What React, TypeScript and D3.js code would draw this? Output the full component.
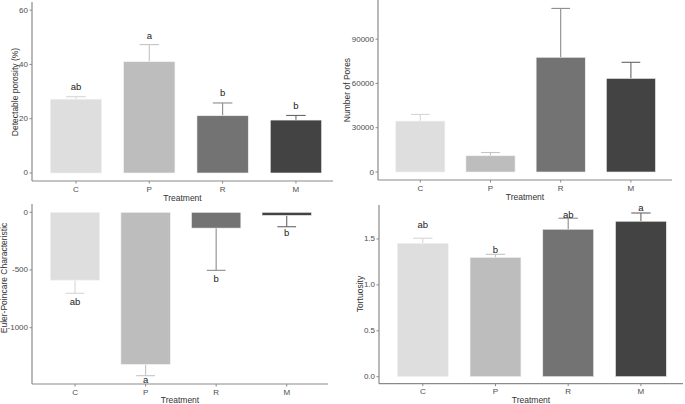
import React from "react";
import * as d3 from "d3";

const categories = ["C", "P", "R", "M"];
const fills = ["#dedede", "#bdbdbd", "#737373", "#434343"];
const errColors = ["#d6d6d6", "#c4c4c4", "#8c8c8c", "#666666"];

// Panel 1: Detectable porosity (%)
const porosity = [27.2, 41.0, 21.1, 19.5];
const porosityErr = [28.1, 47.3, 25.8, 21.2];
const porosityLetters = ["ab", "a", "b", "b"];
const porosityLetterAt = [31.7, 50.5, 29.5, 25.0];
const porosityTicks = [0, 20, 40, 60];

// Panel 2: Number of Pores
const pores = [34500, 11000, 77700, 63400];
const poresErr = [39000, 13200, 110800, 74300];
const poresTicks = [0, 30000, 60000, 90000];

// Panel 3: Euler-Poincare Characteristic
const euler = [-588, -1318, -137, -27];
const eulerErr = [-702, -1416, -503, -125];
const eulerLetters = ["ab", "a", "b", "b"];
const eulerLetterAt = [-777, -1453, -578, -179];
const eulerTicks = [-1000, -500, 0];

// Panel 4: Tortuosity
const tort = [1.453, 1.3, 1.606, 1.693];
const tortErr = [1.508, 1.333, 1.726, 1.783];
const tortLetters = ["ab", "b", "ab", "a"];
const tortLetterAt = [1.66, 1.38, 1.77, 1.845];
const tortTicks = [0, 0.5, 1.0, 1.5];

type PanelProps = {
  values: number[];
  errs: number[];
  letters?: string[];
  letterAt?: number[];
  ticks: number[];
  tickFmt: (v: number) => string;
  yDomain: [number, number];
  axisX: number;
  axisEnd: number;
  top: number;
  bottom: number;
  bandRange: [number, number];
  yTitle: string;
  yTitleX: number;
  yTitleY: number;
  xTitleY: number;
};

function Panel(p: PanelProps) {
  const y = d3.scaleLinear().domain(p.yDomain).range([p.bottom, p.top]);
  const x = d3.scaleBand().domain(categories).range(p.bandRange).paddingInner(0.3).paddingOuter(0.15);
  const bw = x.bandwidth();
  const cap = bw * 0.38;
  const axisCol = "#8a8a8a";
  const font = "Liberation Sans, Arial, sans-serif";
  return (
    <g>
      {categories.map((c, i) => {
        const v = p.values[i];
        const x0 = x(c)!;
        const cx = x0 + bw / 2;
        const y0 = y(0);
        const yv = y(v);
        const ye = y(p.errs[i]);
        return (
          <g key={c}>
            <line x1={cx} x2={cx} y1={yv} y2={ye} stroke={errColors[i]} strokeWidth={1.1} />
            <line x1={cx - cap / 2} x2={cx + cap / 2} y1={ye} y2={ye} stroke={errColors[i]} strokeWidth={1.1} />
            <rect
              x={x0}
              width={bw}
              y={Math.min(y0, yv)}
              height={Math.abs(yv - y0)}
              fill={fills[i]}
              stroke="#f2f2f2"
              strokeWidth={0.6}
            />
            {p.letters && p.letterAt ? (
              <text
                x={cx}
                y={y(p.letterAt[i])}
                textAnchor="middle"
                dominantBaseline="central"
                fontSize={9.5}
                fontFamily={font}
                fill="#1a1a1a"
              >
                {p.letters[i]}
              </text>
            ) : null}
          </g>
        );
      })}
      <line x1={p.axisX} x2={p.axisX} y1={p.top} y2={p.bottom} stroke={axisCol} strokeWidth={1.2} />
      <line x1={p.axisX} x2={p.axisEnd} y1={p.bottom} y2={p.bottom} stroke={axisCol} strokeWidth={1.2} />
      {p.ticks.map((t) => (
        <g key={t}>
          <line x1={p.axisX - 2.5} x2={p.axisX} y1={y(t)} y2={y(t)} stroke={axisCol} strokeWidth={1} />
          <text
            x={p.axisX - 4}
            y={y(t)}
            textAnchor="end"
            dominantBaseline="central"
            fontSize={8}
            fontFamily={font}
            fill="#4d4d4d"
          >
            {p.tickFmt(t)}
          </text>
        </g>
      ))}
      {categories.map((c) => {
        const cx = x(c)! + bw / 2;
        return (
          <g key={"xt" + c}>
            <line x1={cx} x2={cx} y1={p.bottom} y2={p.bottom + 2.5} stroke={axisCol} strokeWidth={1} />
            <text x={cx} y={p.bottom + 10.5} textAnchor="middle" fontSize={8} fontFamily={font} fill="#4d4d4d">
              {c}
            </text>
          </g>
        );
      })}
      <text
        x={(p.axisX + p.axisEnd) / 2}
        y={p.xTitleY}
        textAnchor="middle"
        fontSize={8.5}
        fontFamily={font}
        fill="#333"
      >
        Treatment
      </text>
      <text
        transform={`translate(${p.yTitleX},${p.yTitleY}) rotate(-90)`}
        textAnchor="middle"
        dominantBaseline="central"
        fontSize={8.5}
        fontFamily={font}
        fill="#333"
      >
        {p.yTitle}
      </text>
    </g>
  );
}

export default function App() {
  return (
    <svg width={685} height={404} style={{ position: "absolute", left: 0, top: 0, background: "#fff" }}>
      <rect width={685} height={404} fill="#fff" />
      <Panel
        values={porosity}
        errs={porosityErr}
        letters={porosityLetters}
        letterAt={porosityLetterAt}
        ticks={porosityTicks}
        tickFmt={(v) => String(v)}
        yDomain={[-2.95, 63]}
        axisX={32}
        axisEnd={333}
        top={2}
        bottom={181}
        bandRange={[39.3, 332.6]}
        yTitle="Detectable porosity (%)"
        yTitleX={15}
        yTitleY={92}
        xTitleY={200.5}
      />
      <Panel
        values={pores}
        errs={poresErr}
        ticks={poresTicks}
        tickFmt={(v) => String(v)}
        yDomain={[-5417, 116500]}
        axisX={378}
        axisEnd={672}
        top={0}
        bottom={180}
        bandRange={[385.2, 666]}
        yTitle="Number of Pores"
        yTitleX={347}
        yTitleY={90}
        xTitleY={200}
      />
      <Panel
        values={euler}
        errs={eulerErr}
        letters={eulerLetters}
        letterAt={eulerLetterAt}
        ticks={eulerTicks}
        tickFmt={(v) => String(v)}
        yDomain={[-1488, 71.9]}
        axisX={32}
        axisEnd={328}
        top={204}
        bottom={384}
        bandRange={[39.75, 322]}
        yTitle="Euler-Poincare Characteristic"
        yTitleX={4}
        yTitleY={278}
        xTitleY={403}
      />
      <Panel
        values={tort}
        errs={tortErr}
        letters={tortLetters}
        letterAt={tortLetterAt}
        ticks={tortTicks}
        tickFmt={(v) => v.toFixed(1)}
        yDomain={[-0.0763, 1.87]}
        axisX={379}
        axisEnd={683}
        top={205}
        bottom={383.7}
        bandRange={[386.45, 677.25]}
        yTitle="Tortuosity"
        yTitleX={360}
        yTitleY={294}
        xTitleY={403}
      />
    </svg>
  );
}
